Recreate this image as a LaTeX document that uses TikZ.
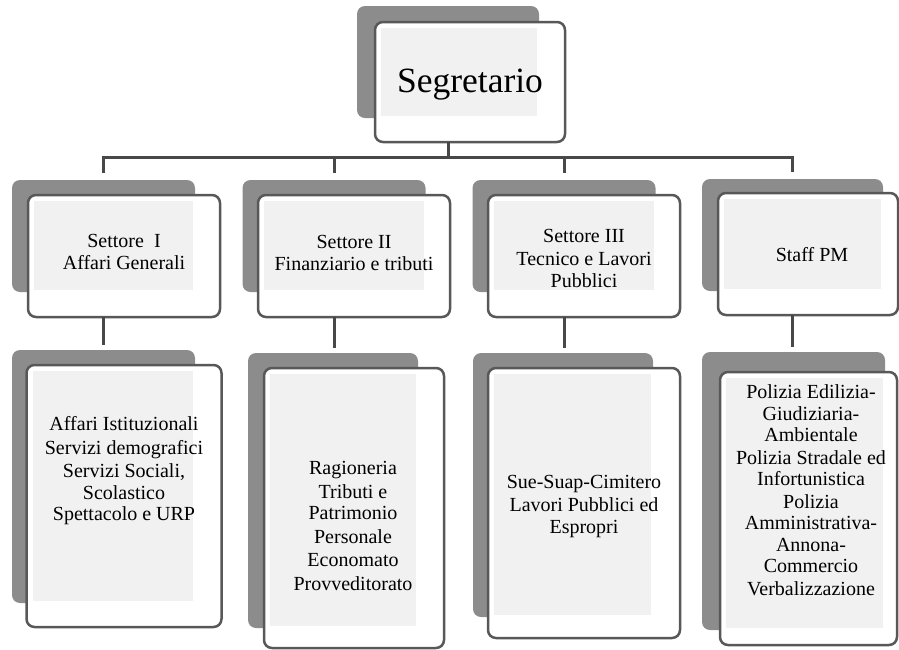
\documentclass[tikz,border=0pt]{standalone}
\usepackage{fontspec}
\setmainfont{Liberation Serif}
\usetikzlibrary{positioning,calc}
\definecolor{orgGray}{RGB}{140,140,140}
\definecolor{orgEdge}{RGB}{88,88,88}
\definecolor{orgLine}{RGB}{72,72,72}
\tikzset{
  %% Shadow card behind each box
  orgBack/.style={fill=orgGray, rounded corners=8pt, inner sep=0pt, outer sep=0pt},
  secBack/.style={orgBack, minimum width=183pt, minimum height=112pt},
  %% White card in front
  orgFront/.style={draw=orgEdge, line width=2.5pt, fill=white, rounded corners=8pt,
    inner sep=0pt, outer sep=0pt},
  secFront/.style={orgFront, minimum width=192pt, minimum height=122pt},
  %% Light dotted area of the card
  orgDots/.style={fill=black, fill opacity=0.055},
  %% Labels
  orgText/.style={align=center, inner sep=0pt, font=\fontsize{20}{21.5}\selectfont},
  %% Tree lines
  orgLink/.style={draw=orgLine, line width=3pt},
}
\begin{document}
\begin{tikzpicture}[x=1pt, y=-1pt]
\useasboundingbox (0,0) rectangle (899,649);

%% Segretario
\node[orgBack, minimum width=182pt, minimum height=112pt] (backSeg) at (448,62) {};
\node[orgFront, minimum width=190pt, minimum height=120pt] (frontSeg) at (470,82) {};

%% Settori
\node[secBack]  (backSetI)   at (103.5,236) {};
\node[secFront] (frontSetI)  at (124,256) {};
\node[secBack]  (backSetII)  at (334,236) {};
\node[secFront] (frontSetII) at (354,256) {};
\node[secBack]  (backSetIII) at (564,236) {};
\node[secFront] (frontSetIII) at (584,256) {};
\node[secBack, minimum width=181pt] (backStaff) at (792.5,235) {};
\node[secFront, minimum width=180pt] (frontStaff) at (808,254) {};

%% Uffici
\node[orgBack, minimum width=183pt, minimum height=253pt] (backUffI) at (103.5,476.5) {};
\node[orgFront, minimum width=195pt, minimum height=262pt] (frontUffI) at (124,496) {};
\node[orgBack, minimum width=170pt, minimum height=275pt] (backUffII) at (333,490.5) {};
\node[orgFront, minimum width=180pt, minimum height=280pt] (frontUffII) at (354,508) {};
\node[orgBack, minimum width=180pt, minimum height=264pt] (backUffIII) at (563,485) {};
\node[orgFront, minimum width=192pt, minimum height=270pt] (frontUffIII) at (584,503) {};
\node[orgBack, minimum width=183pt, minimum height=278pt] (backUffPM) at (793.5,491) {};
\node[orgFront, minimum width=177pt, minimum height=273pt] (frontUffPM) at (808.5,508.5) {};

%% Dotted areas
\foreach \n in {Seg,SetI,SetII,SetIII,Staff,UffI,UffII,UffIII,UffPM}
  \fill[orgDots] ([shift={(6pt,-6pt)}]front\n.north west) rectangle ([shift={(-2pt,2pt)}]back\n.south east);

%% Tree lines
\coordinate (bus) at (448,157);
\draw[orgLink] (backSeg.center |- frontSeg.south) -- (bus);
\foreach \n in {SetI,SetII,SetIII,Staff}
  \draw[orgLink] (bus) -| ([yshift=7pt]back\n.north);
\foreach \a/\b in {SetI/UffI,SetII/UffII,SetIII/UffIII,Staff/UffPM}
  \draw[orgLink] (back\a.center |- front\a.south) -- ([yshift=5pt]back\a.center |- back\b.north);

%% Texts
\node[orgText, font=\fontsize{35.5}{40}\selectfont] (txtSeg) at (470,85) {Segretario};
\node[orgText] (txtSetI)   at (124,252) {Settore\ \ I\\Affari Generali};
\node[orgText] (txtSetII)  at (354,253) {Settore II\\Finanziario e tributi};
\node[orgText] (txtSetIII) at (584,258) {Settore III\\[2pt]Tecnico e Lavori\\Pubblici};
\node[orgText] (txtStaff)  at (812,255) {Staff PM};
\node[orgText] (txtUffI)   at (124,471) {Affari Istituzionali\\[2pt]Servizi demografici\\[2pt]Servizi Sociali,\\Scolastico\\Spettacolo e URP};
\node[orgText] (txtUffII)  at (353,526)
  {Ragioneria\\[2pt]Tributi e\\Patrimonio\\[2pt]Personale\\[2pt]Economato\\[2pt]Provveditorato};
\node[orgText] (txtUffIII) at (584,506) {Sue-Suap-Cimitero\\[2pt]Lavori Pubblici ed\\Espropri};
\node[orgText] (txtUffPM)  at (811,490) {Polizia Edilizia-\\Giudiziaria-\\Ambientale\\[1pt]Polizia Stradale ed\\Infortunistica\\[1pt]Polizia\\Amministrativa-\\Annona-\\Commercio\\[1pt]Verbalizzazione};

\end{tikzpicture}
\end{document}
